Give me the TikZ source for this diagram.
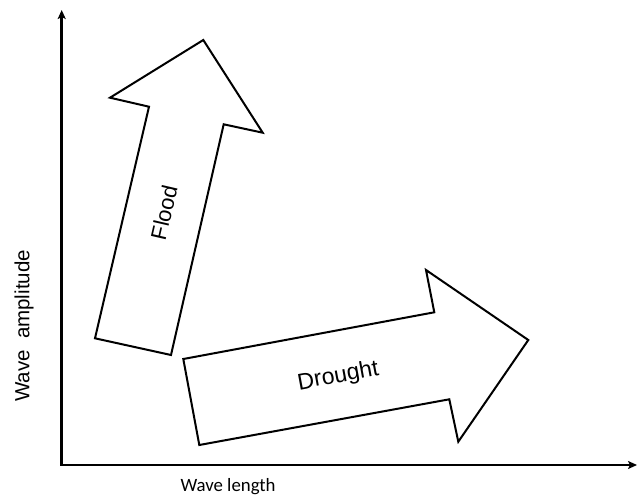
\documentclass[tikz,border=0pt]{standalone}
\usepackage{fontspec}
\setmainfont{Liberation Sans}
\newfontfamily\lengthfont{Carlito}
\usetikzlibrary{arrows.meta}

\begin{document}
\begin{tikzpicture}[
		% one unit is one pixel of the layout, y runs downwards
		x=1pt, y=-1pt,
		axis/.style={line width=2.6pt, line join=miter, {Stealth[length=9pt,width=8pt,inset=2pt]}-{Stealth[length=9pt,width=8pt,inset=2pt]}},
		bigarrow/.style={draw=black, line width=2pt, line join=miter, fill=white},
		lbl/.style={inner sep=0pt, font=\fontsize{22}{26}\selectfont}
		]
		\useasboundingbox (0,0) rectangle (638,498);
		
		% ==========================================
		% 1. The axes
		% ==========================================
		\coordinate (origin) at (61.7,465);
		\coordinate (ytip) at (61.7,10);
		\coordinate (xtip) at (637,465);
		\draw[axis] (ytip) -- (origin) -- (xtip);
		
		\node[inner sep=0pt, rotate=90, font=\fontsize{20.5}{24}\selectfont] (amplitude) at (24,326) {Wave\ \ amplitude};
		\node[inner sep=0pt, font=\lengthfont\fontsize{18.8}{22}\selectfont] (length) at (228,487) {Wave length};
		
		% ==========================================
		% 2. Flood: the steep arrow
		% ==========================================
		\draw[bigarrow] (203.3,40) -- (262.7,132.7) -- (223.7,124.3) -- (171,355)
		-- (95,338.3) -- (149,106.7) -- (110,97.7) -- cycle;
		\node[lbl, rotate=77] (flood) at (164,212.5) {Flood};
		
		% ==========================================
		% 3. Drought: the flat arrow
		% ==========================================
		\draw[bigarrow] (528.3,340) -- (458.3,441.7) -- (449.3,399.3) -- (199.3,445)
		-- (183.3,359) -- (434.3,312.3) -- (426,270) -- cycle;
		\node[lbl, rotate=10.5, font=\fontsize{23}{27}\selectfont] (drought) at (338.3,376.7) {Drought};
		
	\end{tikzpicture}
\end{document}
